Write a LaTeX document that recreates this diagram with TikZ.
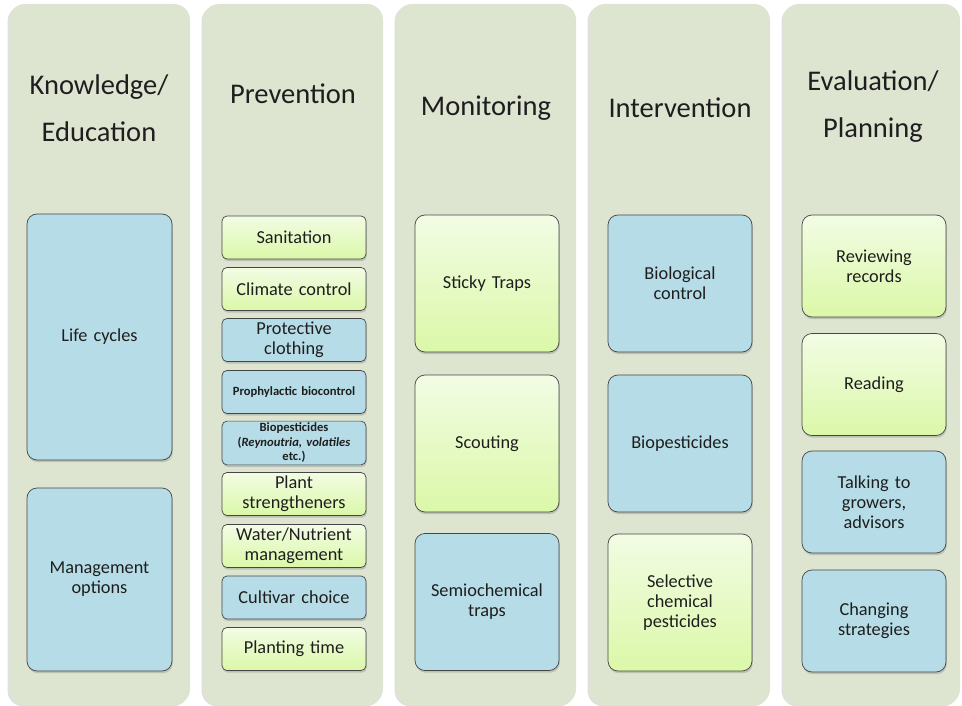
\documentclass[tikz,border=0pt]{standalone}
\usepackage{fontspec}
\setmainfont{Carlito}
\usetikzlibrary{shadows}
\definecolor{colbg}{RGB}{221,229,209}
\definecolor{boxblue}{RGB}{182,221,231}
\definecolor{gtop}{RGB}{242,252,228}
\definecolor{gbot}{RGB}{219,248,168}
\definecolor{txt}{RGB}{30,30,30}
\definecolor{edge}{RGB}{70,70,70}
\tikzset{
  column/.style={fill=colbg, draw=none, rounded corners=16pt,
    drop shadow={shadow xshift=-1.5pt, shadow yshift=-1.5pt, opacity=0.25}},
  head/.style={text=txt, align=center, font=\fontsize{28.5}{47}\selectfont, inner sep=0pt},
  card/.style={draw=edge, line width=0.7pt, rounded corners=10pt, text=txt,
    align=center, inner sep=2pt, text width=138pt,
    font=\fontsize{18.3}{20}\selectfont,
    drop shadow={shadow xshift=0.8pt, shadow yshift=-2.2pt, opacity=0.35}},
  small/.style={card, rounded corners=5pt, minimum width=144pt, minimum height=43pt},
  blue/.style={fill=boxblue},
  green/.style={top color=gtop, bottom color=gbot},
  tiny/.style={font=\fontsize{12.6}{14.5}\selectfont\bfseries}
}
\begin{document}
\begin{tikzpicture}[x=1pt,y=-1pt]
\useasboundingbox (0,0) rectangle (962,706);
% columns
\path[column] (9,4) rectangle (190,705);
\path[column] (203,4) rectangle (383,705);
\path[column] (396,4) rectangle (576,705);
\path[column] (589,4) rectangle (770,705);
\path[column] (783,4) rectangle (960,705);
% headers
\node[head] (h1) at (99,108) {Knowledge/\\Education};
\node[head] (h2) at (293,94) {Prevention};
\node[head] (h3) at (486,108) {Monitoring};
\node[head] (h4) at (680,108) {Intervention};
\node[head] (h5) at (873,107) {Evaluation/\\Planning};
% column 1
\node[card, blue, minimum width=145pt, minimum height=246pt] (lc) at (99.5,337) {Life cycles};
\node[card, blue, minimum width=145pt, minimum height=183pt] (mo) at (99.5,579.5) {Management\\options};
% column 2
\node[small, green] (s1) at (294,237.5) {Sanitation};
\node[small, green] (s2) at (294,289) {Climate control};
\node[small, blue]  (s3) at (294,340) {Protective\\clothing};
\node[small, blue, tiny] (s4) at (294,392) {Prophylactic biocontrol};
\node[small, blue, tiny] (s5) at (294,443) {Biopesticides\\(\textit{Reynoutria, volatiles}\\etc.)};
\node[small, green] (s6) at (294,494) {Plant\\strengtheners};
\node[small, green] (s7) at (294,546) {Water/Nutrient\\management};
\node[small, blue]  (s8) at (294,597.5) {Cultivar choice};
\node[small, green] (s9) at (294,649) {Planting time};
% column 3
\node[card, green, minimum width=144pt, minimum height=137pt] (m1) at (487,283.5) {Sticky Traps};
\node[card, green, minimum width=144pt, minimum height=137pt] (m2) at (487,443.5) {Scouting};
\node[card, blue,  minimum width=144pt, minimum height=137pt] (m3) at (487,602) {Semiochemical\\traps};
% column 4
\node[card, blue,  minimum width=144pt, minimum height=137pt] (i1) at (680,283.5) {Biological\\control};
\node[card, blue,  minimum width=144pt, minimum height=137pt] (i2) at (680,443.5) {Biopesticides};
\node[card, green, minimum width=144pt, minimum height=137pt] (i3) at (680,602.5) {Selective\\chemical\\pesticides};
% column 5
\node[card, green, minimum width=144pt, minimum height=102pt] (e1) at (874,266) {Reviewing\\records};
\node[card, green, minimum width=144pt, minimum height=102pt] (e2) at (874,384.5) {Reading};
\node[card, blue,  minimum width=144pt, minimum height=102pt] (e3) at (874,502) {Talking to\\growers,\\advisors};
\node[card, blue,  minimum width=144pt, minimum height=102pt] (e4) at (874,621) {Changing\\strategies};
\end{tikzpicture}
\end{document}
